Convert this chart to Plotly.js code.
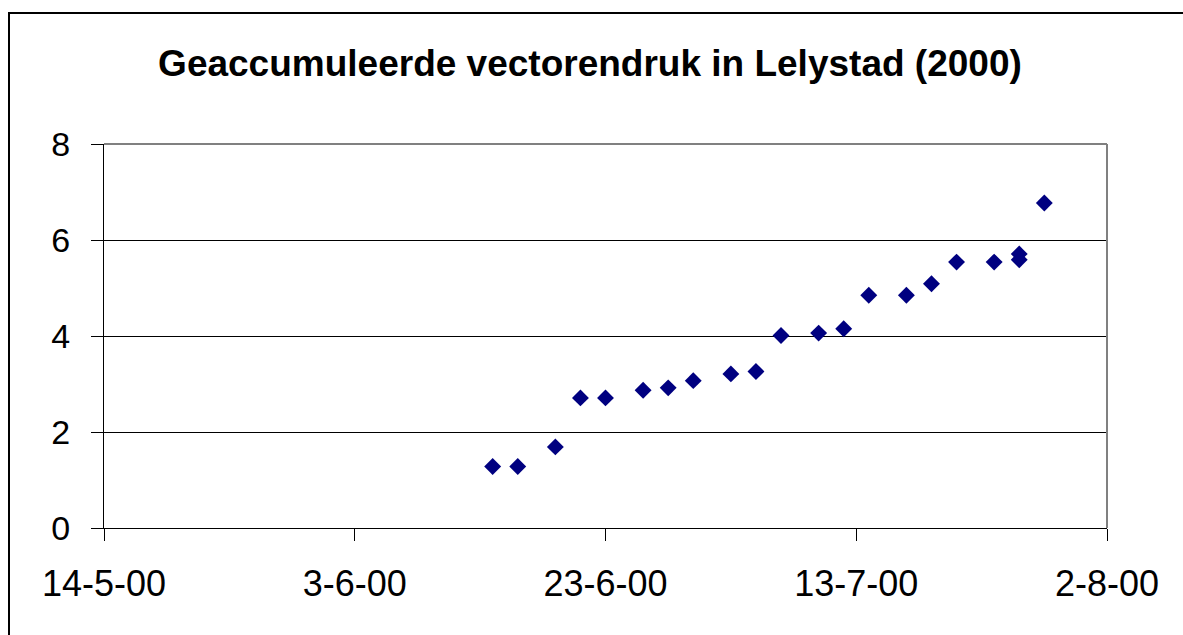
<!DOCTYPE html>
<html>
<head>
<meta charset="utf-8">
<script src="https://cdn.plot.ly/plotly-3.0.1.min.js"></script>
<style>
  html, body { margin: 0; padding: 0; background: #fff; overflow: hidden; }
  #frame { position: absolute; left: 8px; top: 12px; width: 1300px; height: 800px;
           border-left: 2px solid #000; border-top: 2px solid #000; pointer-events: none; z-index: 5; }
  #chart { position: absolute; left: 0; top: 0; width: 1183px; height: 635px; }
</style>
</head>
<body>
<div id="chart"></div>
<div id="frame"></div>
<script>
// Data
const dates = [
  '2000-06-14', '2000-06-16', '2000-06-19', '2000-06-21', '2000-06-23',
  '2000-06-26', '2000-06-28', '2000-06-30', '2000-07-03', '2000-07-05',
  '2000-07-07', '2000-07-10', '2000-07-12', '2000-07-14', '2000-07-17',
  '2000-07-19', '2000-07-21', '2000-07-24', '2000-07-26', '2000-07-26',
  '2000-07-28'
];
const vectorendruk = [
  1.28, 1.28, 1.69, 2.71, 2.71,
  2.87, 2.92, 3.07, 3.21, 3.26,
  4.01, 4.06, 4.15, 4.85, 4.85,
  5.09, 5.54, 5.54, 5.59, 5.71,
  6.77
];
const xTickVals = ['2000-05-14', '2000-06-03', '2000-06-23', '2000-07-13', '2000-08-02'];
const xTickText = ['14-5-00', '3-6-00', '23-6-00', '13-7-00', '2-8-00'];
const yTickVals = [0, 2, 4, 6, 8];
const titleText = 'Geaccumuleerde vectorendruk in Lelystad (2000)';

const trace = {
  type: 'scatter',
  mode: 'markers',
  x: dates,
  y: vectorendruk,
  marker: { symbol: 'diamond', size: 13, color: '#000080', line: { width: 0 } },
  hoverinfo: 'x+y'
};

const font = 'Liberation Sans, Arial, sans-serif';

const layout = {
  width: 1183,
  height: 635,
  paper_bgcolor: '#ffffff',
  plot_bgcolor: '#ffffff',
  showlegend: false,
  margin: { l: 104, r: 76, t: 144, b: 107, pad: 0 },
  title: {
    text: '<b>' + titleText + '</b>',
    font: { family: font, size: 37, color: '#000' },
    xref: 'container', yref: 'container',
    x: 0.4987, y: 1 - 63 / 635,
    xanchor: 'center', yanchor: 'middle'
  },
  xaxis: {
    type: 'date',
    range: ['2000-05-14', '2000-08-02'],
    tickmode: 'array',
    tickvals: xTickVals,
    ticktext: xTickText,
    ticks: 'outside',
    ticklen: 12,
    tickwidth: 1,
    tickcolor: '#000',
    showgrid: false,
    zeroline: false,
    showline: true,
    linecolor: '#000',
    linewidth: 1,
    ticklabelstandoff: 12,
    tickfont: { family: font, size: 36, color: '#000' },
    fixedrange: true
  },
  yaxis: {
    range: [0, 8],
    tickmode: 'array',
    tickvals: yTickVals,
    ticks: 'outside',
    ticklen: 12,
    tickwidth: 1,
    tickcolor: '#000',
    showgrid: true,
    gridcolor: '#000',
    gridwidth: 1,
    zeroline: false,
    showline: true,
    linecolor: '#000',
    linewidth: 1,
    ticklabelstandoff: 14,
    tickfont: { family: font, size: 34, color: '#000' },
    fixedrange: true
  },
  shapes: [
    { type: 'line', xref: 'paper', yref: 'paper', x0: 0, x1: 1, y0: 1, y1: 1,
      line: { color: '#808080', width: 2 }, layer: 'above' },
    { type: 'line', xref: 'paper', yref: 'paper', x0: 1, x1: 1, y0: 0, y1: 1,
      line: { color: '#808080', width: 2 }, layer: 'above' }
  ]
};

Plotly.newPlot('chart', [trace], layout, { displayModeBar: false, staticPlot: true });
</script>
</body>
</html>
